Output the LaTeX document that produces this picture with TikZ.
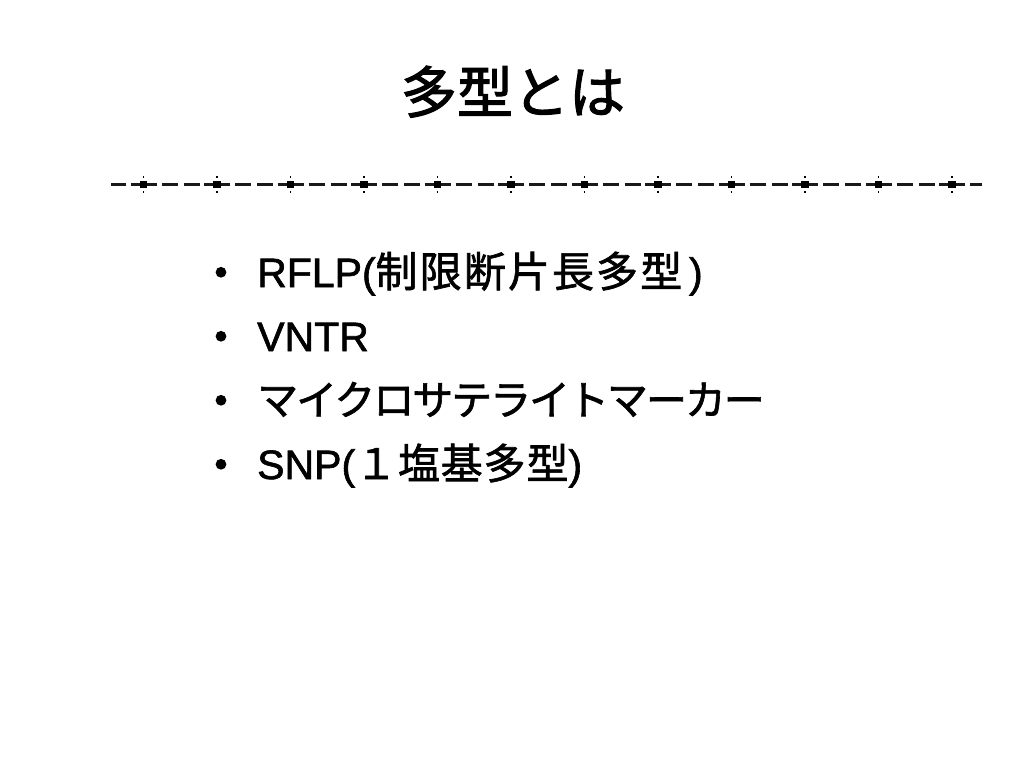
\documentclass[tikz,border=0pt]{standalone}
\usepackage{fontspec}
\setmainfont{Liberation Sans}[FakeBold=1.5]
\newfontfamily\cjk{Noto Sans CJK JP}[FakeBold=1.5]
\newfontfamily\cjkdot{Noto Sans CJK JP}[FakeBold=3]
\newfontfamily\cjkwide{Noto Sans CJK JP}[FakeBold=1.5,LetterSpace=5]
\newfontfamily\cjkmid{Noto Sans CJK JP}[FakeBold=1.5,LetterSpace=2]
\newfontfamily\cjknarrow{Noto Sans CJK JP}[FakeBold=1.5,LetterSpace=-5]
\newfontfamily\cjktitle{Noto Sans CJK JP}[FakeBold=2]
\tikzset{
  bodytext/.style={anchor=base west, inner sep=0pt, font=\fontsize{41}{48}\selectfont},
  bulletmark/.style={anchor=base, inner sep=0pt, font=\cjkdot\fontsize{44}{48}\selectfont},
  rulemark/.style={fill=black, draw=none},
}
\begin{document}
\begin{tikzpicture}[x=1pt,y=-1pt]
  \fill[white] (0,0) rectangle (1024,768);
  \useasboundingbox (0,0) rectangle (1024,768);
  % title
  \node[anchor=base, inner sep=0pt, font=\cjktitle\fontsize{56}{64}\selectfont] (title) at (513,113) {多型とは};
  % decorative rule
  \coordinate (ruleA) at (111,184.5);
  \coordinate (ruleB) at (982,184.5);
  \draw[line width=2.2pt, black!90, dash pattern=on 26pt off 5pt on 16pt off 6pt on 16pt off 4.5pt, dash phase=54pt] (ruleA) -- (ruleB);
  \foreach \k in {0,...,11}{
    \pgfmathsetmacro{\mx}{143.5+73.5*\k}
    \fill[rulemark] (\mx-3.8,180.8) rectangle (\mx+3.8,188.4);
    \fill[rulemark] (\mx-0.9,176.3) rectangle (\mx+0.9,178);
    \fill[rulemark] (\mx-0.9,191) rectangle (\mx+0.9,192.7);
  }
  % bullets
  \node[bulletmark] (d1) at (221,289) {・};
  \node[bulletmark] (d2) at (221,353) {・};
  \node[bulletmark] (d3) at (221,417) {・};
  \node[bulletmark] (d4) at (221,481) {・};
  \node[bodytext] (b1) at (257,287) {RFLP({\cjkwide\fontsize{42}{48}\selectfont 制限断片長多型}\,)};
  \node[bodytext] (b2) at (257,351) {VNTR};
  \node[bodytext] (b3) at (257,415) {{\cjknarrow マイクロサテライトマーカー}};
  \node[bodytext] (b4) at (257,479) {SNP({\cjkmid\fontsize{42}{48}\selectfont １塩基多型})};
\end{tikzpicture}
\end{document}
